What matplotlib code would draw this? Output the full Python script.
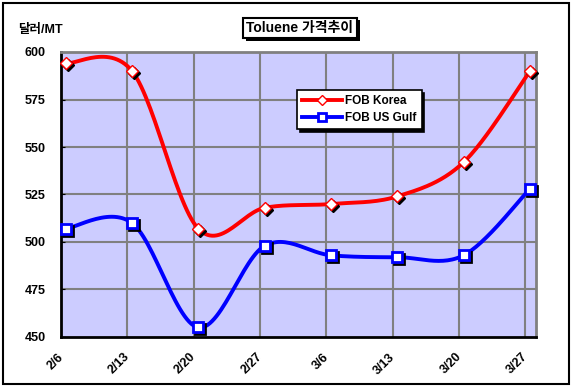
import numpy as np
import matplotlib
matplotlib.use("Agg")
import matplotlib.pyplot as plt
import matplotlib.transforms as mtransforms
import matplotlib.patheffects as pe
from matplotlib.patches import Rectangle
from matplotlib.lines import Line2D

plt.rcParams['font.family'] = ['Liberation Sans', 'Noto Sans CJK KR', 'DejaVu Sans']

categories = ['2/6', '2/13', '2/20', '2/27', '3/6', '3/13', '3/20', '3/27']
korea = [594, 590, 507, 518, 520, 524, 542, 590]
usgulf = [507, 510, 455, 498, 493, 492, 493, 528]
yticks = [450, 475, 500, 525, 550, 575, 600]
title = 'Toluene 가격추이'
ylabel = '달러/MT'
names = ['FOB Korea', 'FOB US Gulf']


def smooth(xs, ys, n=30):
    xs = np.asarray(xs, float)
    ys = np.asarray(ys, float)
    P = np.column_stack([xs, ys])
    out = []
    m = len(P)
    for i in range(m - 1):
        p0 = P[i - 1] if i > 0 else P[i]
        p1 = P[i]
        p2 = P[i + 1]
        p3 = P[i + 2] if i + 2 < m else P[i + 1]
        c1 = p1 + (p2 - p0) / 6.0
        c2 = p2 - (p3 - p1) / 6.0
        t = np.linspace(0, 1, n)[:, None]
        seg = ((1 - t) ** 3) * p1 + 3 * ((1 - t) ** 2) * t * c1 + 3 * (1 - t) * t ** 2 * c2 + t ** 3 * p2
        if i > 0:
            seg = seg[1:]
        out.append(seg)
    out = np.vstack(out)
    return out[:, 0], out[:, 1]


W, H = 572, 387
fig = plt.figure(figsize=(W / 100, H / 100), dpi=100)
fig.patch.set_facecolor('white')
fig.patches.append(Rectangle((3 / W, 3 / H), 566 / W, 381 / H, transform=fig.transFigure,
                             fill=False, edgecolor='black', linewidth=1.5))

L, R, T, B = 61, 536, 52, 337
ax = fig.add_axes([L / W, (H - B) / H, (R - L) / W, (B - T) / H])
ax.set_facecolor('#CCCCFF')

x = np.arange(len(categories))
ax.set_xlim(-0.07, len(categories) - 1 + 0.09)
ax.set_ylim(yticks[0], yticks[-1])

for yv in yticks[1:-1]:
    ax.axhline(yv, color='#808080', lw=1.5, zorder=1)
for k in range(1, len(categories)):
    ax.axvline(k - 0.07, color='#808080', lw=1.5, zorder=1)

for s in ['left', 'bottom']:
    ax.spines[s].set_color('black')
    ax.spines[s].set_linewidth(2)
for s in ['top', 'right']:
    ax.spines[s].set_color('#808080')
    ax.spines[s].set_linewidth(2)

ax.set_yticks(yticks)
ax.set_yticklabels([str(v) for v in yticks], fontsize=9, fontweight='bold')
ax.set_xticks(x)
ax.set_xticklabels(categories, fontsize=9, fontweight='bold', rotation=45, ha='right', va='top')
ax.tick_params(axis='y', length=3, direction='in', pad=11)
ax.tick_params(axis='x', length=0, pad=10)

shadow = mtransforms.offset_copy(ax.transData, fig=fig, x=2, y=-2, units='dots')

series = [(korea, 'red', 'D', 6, 1.0), (usgulf, 'blue', 's', 7, 2.0)]
handles = []
for (vals, col, mk, ms, mew), nm in zip(series, names):
    sx, sy = smooth(x, vals)
    ax.plot(sx, sy, color=col, lw=2.8, zorder=3, solid_capstyle='round')
    ax.plot(x, vals, ls='none', marker=mk, ms=ms, mfc='black', mec='black', mew=mew,
            transform=shadow, zorder=4, clip_on=False)
    ax.plot(x, vals, ls='none', marker=mk, ms=ms, mfc='white', mec=col, mew=mew,
            zorder=5, clip_on=False)
    handles.append(Line2D([], [], color=col, lw=2.8, marker=mk, ms=ms - 1, mfc='white', mec=col, mew=mew))

leg = ax.legend(handles, names, loc='upper left', bbox_to_anchor=((297 - L) / (R - L), (B - 90) / (B - T)),
                frameon=True, fancybox=False, shadow={'color': 'black', 'alpha': 1},
                prop={'weight': 'bold', 'size': 8.5}, handlelength=3.4, handletextpad=0.2,
                borderpad=0.45, labelspacing=0.4, borderaxespad=0)
leg.get_frame().set_edgecolor('black')
leg.get_frame().set_linewidth(1.2)
leg.set_zorder(10)

t = fig.text(300 / W, 1 - 28 / H, title, ha='center', va='center', fontsize=10, fontweight='bold',
             bbox=dict(boxstyle='square,pad=0.25', fc='white', ec='black', lw=1.5))
t.get_bbox_patch().set_path_effects([
    pe.SimplePatchShadow(offset=(2, -2), shadow_rgbFace='black', alpha=1.0), pe.Normal()])
fig.text(18 / W, 1 - 30 / H, ylabel, ha='left', va='center', fontsize=9, fontweight='bold')

fig.savefig('out.png', dpi=100)
